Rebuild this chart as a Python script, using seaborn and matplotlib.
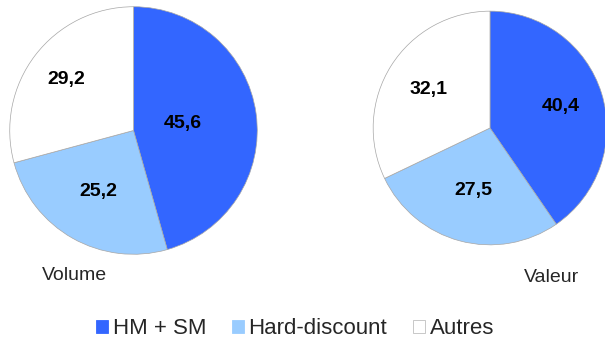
import matplotlib
matplotlib.use("Agg")
import matplotlib.pyplot as plt
import seaborn as sns
from matplotlib.patches import Patch
import numpy as np

categories = ["HM + SM", "Hard-discount", "Autres"]
volume = [45.6, 25.2, 29.2]
valeur = [40.4, 27.5, 32.1]
titles = ["Volume", "Valeur"]
colors = ["#3366FF", "#99CCFF", "#FFFFFF"]

sns.set_theme(style="white")
plt.rcParams["font.family"] = ["Liberation Sans", "DejaVu Sans"]

W, H = 605, 343
fig = plt.figure(figsize=(W / 100, H / 100), dpi=100)
fig.patch.set_facecolor("white")


def px_axes(cx, cy, r):
    return fig.add_axes([(cx - r) / W, 1 - (cy + r) / H, 2 * r / W, 2 * r / H])


def draw_pie(ax, values, label_dist):
    wedges, _ = ax.pie(values, colors=colors, startangle=90, counterclock=False,
                       radius=1.0,
                       wedgeprops=dict(edgecolor="#a6a6a6", linewidth=0.5))
    for w, v, d in zip(wedges, values, label_dist):
        theta = np.deg2rad((w.theta1 + w.theta2) / 2)
        ax.text(d * np.cos(theta), d * np.sin(theta),
                f"{v:.1f}".replace(".", ","), ha="center", va="center",
                fontsize=14, fontweight="bold", color="black")
    ax.set_xlim(-1.01, 1.01)
    ax.set_ylim(-1.01, 1.01)
    ax.set_aspect("equal")
    ax.axis("off")


ax1 = px_axes(133.5, 130.5, 125)
draw_pie(ax1, volume, [0.40, 0.57, 0.68])
ax2 = px_axes(490, 128, 118)
draw_pie(ax2, valeur, [0.63, 0.55, 0.62])

fig.text(42 / W, 1 - 275 / H, titles[0], ha="left", va="center", fontsize=14)
fig.text(552 / W, 1 - 277 / H, titles[1], ha="center", va="center", fontsize=14)

handles = [Patch(facecolor=c, edgecolor="#bfbfbf" if c == "#FFFFFF" else c, linewidth=0.6)
           for c in colors]
fig.legend(handles, categories, loc="center", bbox_to_anchor=(295 / W, 1 - 329 / H),
           ncol=3, frameon=False, fontsize=16, handlelength=0.55, handleheight=0.55,
           handletextpad=0.2, columnspacing=1.15, borderaxespad=0)

fig.savefig("out.png", dpi=100, facecolor="white")
